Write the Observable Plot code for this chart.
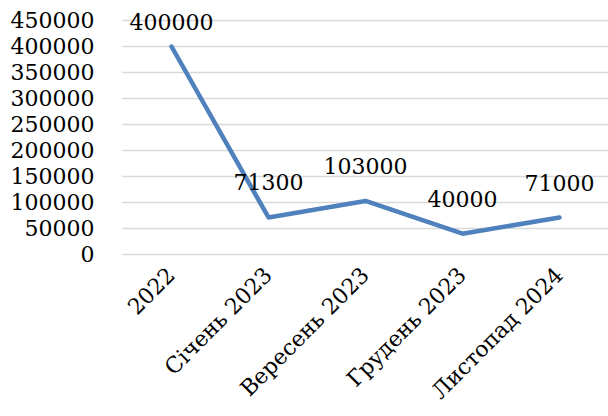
<!DOCTYPE html>
<html>
<head>
<meta charset="utf-8">
<script src="https://cdn.jsdelivr.net/npm/d3@7"></script>
<script src="https://cdn.jsdelivr.net/npm/@observablehq/plot@0.6"></script>
<style>
  html, body { margin: 0; padding: 0; background: #fff; }
  svg, svg text { font-family: "DejaVu Serif", serif !important; }
</style>
</head>
<body>
<div id="chart"></div>
<script>
const categories = ["2022", "Січень 2023", "Вересень 2023", "Грудень 2023", "Листопад 2024"];
const values = [400000, 71300, 103000, 40000, 71000];
const yTicks = [0, 50000, 100000, 150000, 200000, 250000, 300000, 350000, 400000, 450000];

const data = categories.map((c, i) => ({category: c, value: values[i]}));

const chart = Plot.plot({
  width: 608,
  height: 416,
  marginLeft: 122,
  marginRight: 0,
  marginTop: 20,
  marginBottom: 162,
  style: {fontFamily: "DejaVu Serif, serif", fontSize: "22px", color: "#000", background: "#fff"},
  x: {type: "point", domain: categories, padding: 0.5, label: null},
  y: {domain: [0, 450000], label: null},
  marks: [
    Plot.gridY(yTicks, {stroke: "#d9d9d9", strokeOpacity: 1, strokeWidth: 1.3}),
    Plot.axisY(yTicks, {tickSize: 0, tickPadding: 28, tickFormat: d => String(d), fontSize: 22}),
    Plot.axisX({tickSize: 0, tickPadding: 17, tickRotate: -45, fontSize: 22}),
    Plot.line(data, {x: "category", y: "value", stroke: "#4f81bd", strokeWidth: 4.5}),
    Plot.text(data.filter((d, i) => i === 0), {x: "category", y: "value", text: d => String(d.value), dy: -24, fontSize: 22}),
    Plot.text(data.filter((d, i) => i > 0), {x: "category", y: "value", text: d => String(d.value), dy: -34, fontSize: 22})
  ]
});
document.getElementById("chart").appendChild(chart);
</script>
</body>
</html>
